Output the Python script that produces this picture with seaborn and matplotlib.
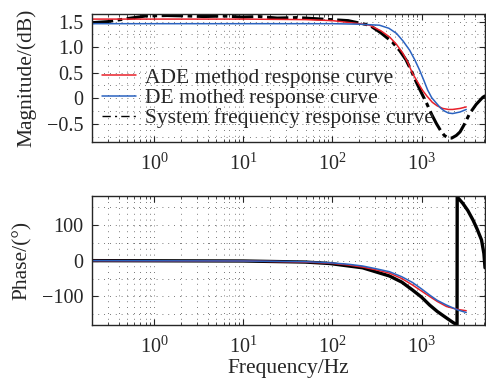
import numpy as np
import pandas as pd
import matplotlib
matplotlib.use("Agg")
import matplotlib.pyplot as plt
import seaborn as sns
from matplotlib.ticker import MultipleLocator, LogLocator, FixedLocator

# Magnitude data (Hz, dB)
ade_mag_f = [0.2, 1, 10, 50, 100, 200, 261, 350, 437, 520, 617, 700, 790, 900, 1020, 1150, 1320, 1500, 1730, 2000, 2230, 2700, 3170]
ade_mag = [1.55, 1.55, 1.55, 1.54, 1.52, 1.46, 1.43, 1.32, 1.20, 1.06, 0.88, 0.70, 0.49, 0.32, 0.16, 0.04, -0.08, -0.15, -0.20, -0.22, -0.22, -0.20, -0.17]

de_mag_f = [0.2, 100, 200, 337, 430, 523, 620, 735, 840, 950, 1060, 1170, 1300, 1470, 1630, 1800, 2000, 2230, 2700, 3170]
de_mag = [1.46, 1.46, 1.45, 1.43, 1.37, 1.27, 1.12, 0.94, 0.75, 0.55, 0.35, 0.16, 0.01, -0.10, -0.19, -0.25, -0.29, -0.30, -0.27, -0.22]

sys_mag_f = [0.2, 0.3, 0.5, 0.8, 1.4, 2.5, 3.6, 6, 9.7, 15, 24, 40, 77, 150, 261, 350, 470, 570, 670, 770, 870, 1000,
             1140, 1300, 1470, 1630, 1800, 2000, 2180, 2450, 2700, 3000, 3460, 4100, 4870, 5200]
sys_mag = [1.48, 1.50, 1.56, 1.61, 1.62, 1.61, 1.60, 1.61, 1.59, 1.60, 1.57, 1.58, 1.55, 1.52, 1.43, 1.28, 1.10, 0.93, 0.75, 0.53, 0.32, 0.10,
           -0.10, -0.32, -0.50, -0.63, -0.73, -0.78, -0.78, -0.73, -0.66, -0.52, -0.30, -0.12, 0.02, 0.05]

# Phase data (Hz, deg)
ade_ph_f = [0.2, 10, 50, 93, 150, 218, 300, 437, 600, 790, 1000, 1230, 1500, 1900, 2500, 3170]
ade_ph = [0, -1, -4, -7, -12, -18, -25, -35, -50, -68, -85, -100, -114, -128, -136, -140]

de_ph_f = [0.2, 10, 50, 93, 150, 218, 300, 437, 600, 790, 1000, 1230, 1500, 1900, 2500, 3170]
de_ph = [0, -1, -3, -6, -10, -15, -22, -31, -45, -61, -79, -96, -111, -124, -137, -145]

sys_ph_f = [0.2, 10, 50, 93, 218, 437, 600, 790, 1000, 1230, 1500, 1900, 2200, 2500, 2510, 2900, 3300, 3780, 4200, 4700, 5000, 5150]
sys_ph = [0, -1, -4, -8, -20, -43, -60, -82, -102, -124, -142, -160, -171, -180, 178, 160, 140, 113, 88, 58, 20, -20]

labels = ["ADE method response curve", "DE mothed response curve", "System frequency response curve"]
x_ticks = [1, 10, 100, 1000]

sns.set_style("ticks")
plt.rcParams["font.family"] = ["Liberation Serif", "DejaVu Serif"]
plt.rcParams["mathtext.fontset"] = "custom"
plt.rcParams["mathtext.rm"] = "Liberation Serif"
plt.rcParams["mathtext.it"] = "Liberation Serif:italic"
plt.rcParams["font.size"] = 15

fig = plt.figure(figsize=(4.86, 3.78), dpi=100)
ax1 = fig.add_axes([0.189, 0.624, 0.809, 0.339])
ax2 = fig.add_axes([0.189, 0.140, 0.809, 0.341])

grid_kw = dict(color="k", linestyle=(0, (1, 6)), linewidth=0.6, alpha=0.7)
sys_dash = (0, (7, 1.5, 1.5, 1.5))


def style_axis(ax):
    ax.set_xscale("log")
    ax.set_xlim(0.2, 5150)
    ax.xaxis.set_major_locator(FixedLocator(x_ticks))
    ax.xaxis.set_minor_locator(LogLocator(base=10, subs=np.arange(2, 10), numticks=20))
    ax.grid(True, which="both", **grid_kw)
    ax.tick_params(which="both", direction="in", top=True, right=True, labelsize=14.5, pad=6)
    ax.tick_params(axis="x", which="both", pad=8)
    ax.tick_params(which="major", length=4, width=0.8)
    ax.tick_params(which="minor", length=2, width=0.6)
    ax.tick_params(axis="y", which="minor", length=0)
    for s in ax.spines.values():
        s.set_linewidth(1.0)
        s.set_visible(True)


# Magnitude plot
sns.lineplot(x=ade_mag_f, y=ade_mag, ax=ax1, color="#e8202a", lw=1.1, label=labels[0], estimator=None, sort=False)
sns.lineplot(x=de_mag_f, y=de_mag, ax=ax1, color="#2a62c0", lw=1.1, label=labels[1], estimator=None, sort=False)
sns.lineplot(x=sys_mag_f, y=sys_mag, ax=ax1, color="black", lw=2.2, linestyle=sys_dash, label=labels[2],
             estimator=None, sort=False, zorder=1)
style_axis(ax1)
ax1.set_ylim(-0.86, 1.65)
ax1.yaxis.set_major_locator(FixedLocator([-0.5, 0, 0.5, 1.0, 1.5]))
ax1.set_yticklabels(["\u22120.5", "0", "0.5", "1.0", "1.5"])
ax1.yaxis.set_minor_locator(MultipleLocator(0.25))
ax1.set_ylabel("Magnitude/(dB)", fontsize=15.5)
ax1.yaxis.set_label_coords(-0.142, 0.5)
leg = ax1.legend(loc="center left", bbox_to_anchor=(0.025, 0.344), frameon=False, fontsize=15.5,
                 handlelength=1.6, handletextpad=0.4, labelspacing=0.0, borderaxespad=0.0, borderpad=0.0)
leg.legend_handles[2].set_linewidth(1.0)
leg.legend_handles[2].set_linestyle((0, (6, 3, 1.5, 3)))

# Phase plot
sns.lineplot(x=sys_ph_f, y=sys_ph, ax=ax2, color="black", lw=2.4, estimator=None, sort=False, zorder=1)
sns.lineplot(x=ade_ph_f, y=ade_ph, ax=ax2, color="#e8202a", lw=1.1, estimator=None, sort=False)
sns.lineplot(x=de_ph_f, y=de_ph, ax=ax2, color="#2a62c0", lw=1.1, estimator=None, sort=False)
style_axis(ax2)
ax2.set_ylim(-180, 180)
ax2.yaxis.set_major_locator(FixedLocator([-100, 0, 100]))
ax2.set_yticklabels(["\u2212100", "0", "100"])
ax2.yaxis.set_minor_locator(MultipleLocator(50))
ax2.set_ylabel("Phase/(\u00b0)", fontsize=15.5)
ax2.yaxis.set_label_coords(-0.153, 0.5)
ax2.set_xlabel("Frequency/Hz", fontsize=15.5, labelpad=1)

fig.savefig("out.png", dpi=100)
